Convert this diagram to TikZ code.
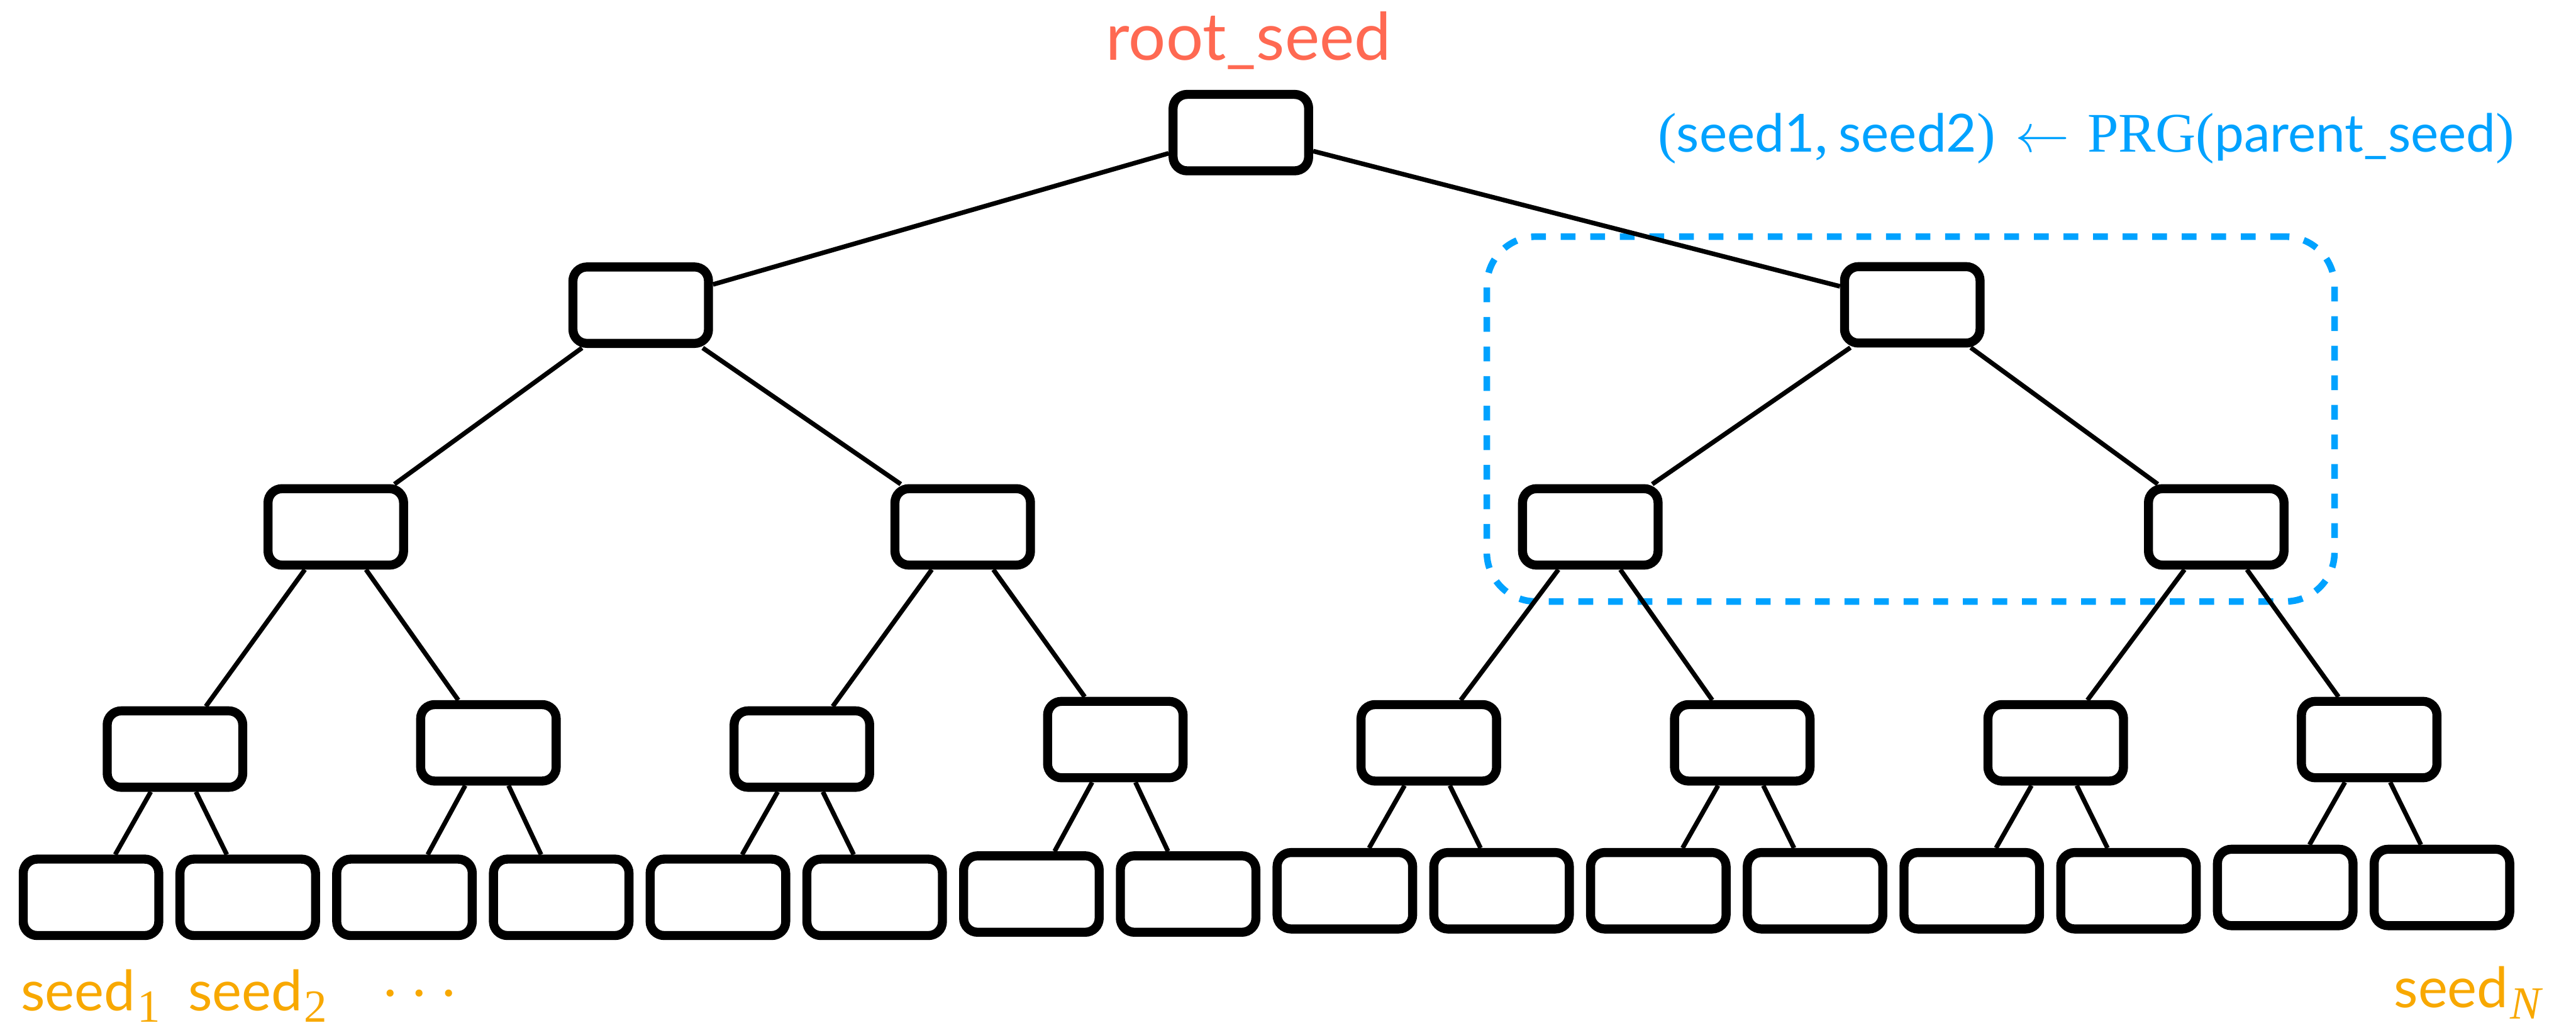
\RequirePackage{fix-cm}
\documentclass[tikz,border=0pt]{standalone}
\usepackage{fontspec}
\newfontfamily\sansface{Lato}
\newfontfamily\serifface{Liberation Serif}
\definecolor{rootred}{HTML}{FF6952}
\definecolor{prgblue}{HTML}{00A2FF}
\definecolor{leaforange}{HTML}{F8A800}
\newcommand{\sub}[1]{\kern1pt\raisebox{-7pt}{\serifface\fontsize{28}{30}\selectfont #1}}
\newcommand{\sym}[1]{{\serifface\fontsize{34}{36}\selectfont #1}}
\begin{document}
\begin{tikzpicture}[x=1pt,y=-1pt,
  seedbox/.style={draw=black, fill=white, line width=5.5pt, rounded corners=8.5pt,
    minimum width=82.5pt, minimum height=46.5pt, inner sep=0pt},
  treeedge/.style={draw=black, line width=2.8pt},
  grouping/.style={draw=prgblue, line width=4pt, dash pattern=on 9pt off 9pt,
    rounded corners=30pt, minimum width=516pt, minimum height=222pt, inner sep=0pt},
  rootlabel/.style={anchor=base, text=rootred, inner sep=0pt,
    font=\sansface\fontsize{40}{44}\selectfont},
  prglabel/.style={anchor=base west, text=prgblue, inner sep=0pt,
    font=\sansface\fontsize{32}{36}\selectfont},
  leaflabel/.style={anchor=base west, text=leaforange, inner sep=0pt,
    font=\sansface\fontsize{34}{40}\selectfont}]
\useasboundingbox (0,0) rectangle (1568,625.4);

% group of one parent and its two children
\node[grouping] (group) at (1163,255) {};

% tree of seeds, level by level
\node[seedbox] (n0) at (755.3,80.7) {};
\node[seedbox] (n1-0) at (390,185.7) {};
\node[seedbox] (n1-1) at (1164,185.5) {};
\foreach \x [count=\j from 0] in {204.4,586,968,1349}
  \node[seedbox] (n2-\j) at (\x,320.6) {};
\foreach \y [count=\j from 0] in {455.8,452,455.8,450,452,452,452,450}
  \node[seedbox] (n3-\j) at (106.5+190.8*\j,\y) {};
\foreach \y [count=\i from 0] in {546,546,546,546,546,546,544,544,542,542,542,542,542,542,540,540}
  \node[seedbox] (n4-\i) at (55.4+95.4*\i,\y) {};

% parent-child edges
\draw[treeedge] (n0) -- (n1-0);
\draw[treeedge] (n0) -- (n1-1);
\foreach \p in {0,1} {
  \pgfmathtruncatemacro{\a}{2*\p}
  \pgfmathtruncatemacro{\b}{2*\p+1}
  \draw[treeedge] (n1-\p) -- (n2-\a);
  \draw[treeedge] (n1-\p) -- (n2-\b);
}
\foreach \p in {0,...,3} {
  \pgfmathtruncatemacro{\a}{2*\p}
  \pgfmathtruncatemacro{\b}{2*\p+1}
  \draw[treeedge] (n2-\p) -- (n3-\a);
  \draw[treeedge] (n2-\p) -- (n3-\b);
}
\foreach \p in {0,...,7} {
  \pgfmathtruncatemacro{\a}{2*\p}
  \pgfmathtruncatemacro{\b}{2*\p+1}
  \draw[treeedge] (n3-\p) -- (n4-\a);
  \draw[treeedge] (n3-\p) -- (n4-\b);
}

% labels
\node[rootlabel] (rootname) at (760,36.6) {root\_seed};
\node[prglabel] (prg) at (1009,92.5)
  {\sym{(}seed1\sym{,}\kern6pt seed2\sym{)}\kern12pt{\fontsize{33}{34}\selectfont$\leftarrow$}\kern11pt\sym{PRG(}parent\_seed\sym{)}};
\node[leaflabel] (seedone) at (12.6,614.8) {seed\sub{1}};
\node[leaflabel] (seedtwo) at (114.3,614.8) {seed\sub{2}};
\node[anchor=center, text=leaforange, inner sep=0pt, font=\serifface\fontsize{18}{20}\selectfont] (dots) at (255.4,606.4) {•\kern11.5pt•\kern11.5pt•};
\node[leaflabel] (seedlast) at (1457,613) {seed\sub{\itshape N}};
\end{tikzpicture}
\end{document}
